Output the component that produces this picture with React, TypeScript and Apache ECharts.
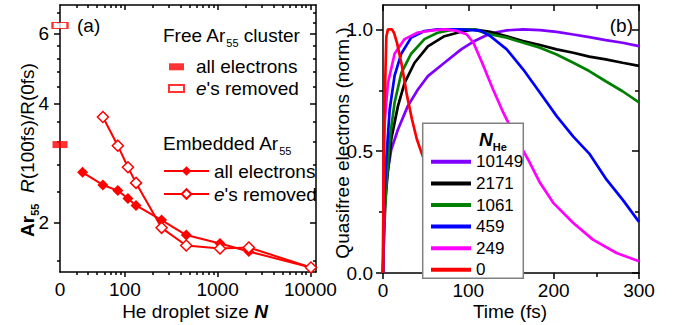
import React, { useEffect, useRef } from 'react';
import * as echarts from 'echarts';

const FONT = '"Liberation Sans", Arial, Helvetica, sans-serif';

// ---------- Panel (a) data ----------
const FREE_POS = 20; // position of the "0" (free cluster) tick on the size axis
const freeAll = [3.15];
const freeRemoved = [6.3];
const embAllSizes = [35, 58, 84, 108, 132, 249, 459, 1061, 2171, 10149];
const embAllValues = [2.68, 2.49, 2.41, 2.3, 2.21, 2.03, 1.86, 1.77, 1.69, 1.54];
const embRemSizes = [58, 84, 108, 132, 249, 459, 1061, 2171, 10149];
const embRemValues = [3.7, 3.13, 2.76, 2.52, 1.94, 1.75, 1.72, 1.73, 1.54];
const xMajor = [100, 1000, 10000];
const xLabels = [FREE_POS, 100, 1000, 10000];
const xMinor = [30, 40, 50, 60, 70, 80, 90, 200, 300, 400, 500, 600, 700, 800, 900, 2000, 3000, 4000, 5000, 6000, 7000, 8000, 9000];
const yMajorA = [2, 4, 6];
const yMinorA = [1.6, 2.4, 2.8, 3.2, 3.6, 4.4, 4.8, 5.2, 5.6, 6.4, 6.8];

// ---------- Panel (b) data ----------
const nameList = ['10149', '2171', '1061', '459', '249', '0'];
const colorList = ['#8000ff', '#000000', '#008000', '#0000ff', '#ff00ff', '#ff0000'];
const t10149 = [0, 1, 3.9, 9.7, 17.5, 29, 40.9, 52.6, 72, 91.6, 106, 125.6, 145, 164, 184, 203.5, 223, 241.7, 261, 280.7, 300];
const v10149 = [0, 0.18, 0.383, 0.507, 0.589, 0.685, 0.753, 0.808, 0.863, 0.918, 0.95, 0.983, 0.996, 1.0, 0.997, 0.99, 0.979, 0.968, 0.956, 0.945, 0.931];
const t2171 = [0, 2, 5.8, 9.7, 17.5, 25.3, 37, 52.6, 72, 91.6, 106, 125.6, 145, 164, 184, 203.5, 223, 241.7, 261, 280.7, 300];
const v2171 = [0, 0.27, 0.42, 0.55, 0.685, 0.78, 0.863, 0.93, 0.972, 0.99, 1.0, 0.99, 0.972, 0.952, 0.936, 0.918, 0.904, 0.888, 0.877, 0.863, 0.85];
const t1061 = [0, 1.2, 3.9, 7.8, 13.6, 21.4, 33, 48.6, 64, 83.5, 106, 125.6, 145, 164.4, 184, 203.5, 223, 241.7, 261, 280.7, 300];
const v1061 = [0, 0.165, 0.356, 0.548, 0.7, 0.82, 0.9, 0.96, 0.986, 1.0, 1.0, 0.98, 0.966, 0.945, 0.925, 0.897, 0.863, 0.829, 0.787, 0.746, 0.7];
const t459 = [0, 1, 3.9, 7.8, 13.6, 21.4, 33, 48.6, 64, 90, 114, 125.6, 145, 164.4, 184, 203.5, 223, 241.7, 262, 281, 300];
const v459 = [0, 0.27, 0.47, 0.67, 0.81, 0.9, 0.966, 0.993, 1.0, 1.0, 0.995, 0.973, 0.918, 0.835, 0.74, 0.644, 0.56, 0.49, 0.383, 0.3, 0.21];
const t249 = [0, 0.5, 2, 5.8, 13.6, 25.3, 40.9, 60.4, 72, 85, 98, 106, 117.7, 129, 141, 152.8, 164.5, 170, 184, 199.5, 223, 246, 273.7, 300];
const v249 = [0, 0.33, 0.62, 0.78, 0.9, 0.96, 0.987, 0.997, 1.0, 0.995, 0.98, 0.945, 0.85, 0.753, 0.658, 0.575, 0.5, 0.466, 0.37, 0.288, 0.205, 0.137, 0.082, 0.048];
const t0 = [0, 1, 3.9, 5.8, 8, 10.5, 13, 16.4, 22.2, 28, 34, 39.6, 45.5, 55, 70, 90, 120, 150];
const v0 = [0, 0.56, 0.97, 1.0, 1.0, 1.0, 0.985, 0.945, 0.85, 0.73, 0.63, 0.55, 0.49, 0.4, 0.28, 0.17, 0.07, 0.03];
const timeLists = [t10149, t2171, t1061, t459, t249, t0];
const valueLists = [v10149, v2171, v1061, v459, v249, v0];
const yMajorB = [0, 0.5, 1.0];
const yMinorB = [0.25, 0.75];

const zip = (xs: number[], ys: number[]) => xs.map((x, i) => [x, ys[i]]);

const BLACK = { color: '#000', width: 1.5 };
const labelBase = { color: '#000', fontFamily: FONT, fontSize: 19 };

function logX(position: 'top' | 'bottom', ticks: number[], len: number, inside: boolean, line: boolean, labels?: number[]) {
  return {
    type: 'log', gridIndex: 0, position, min: 20, max: 11500,
    axisLine: { show: line, onZero: false, lineStyle: BLACK },
    axisTick: { show: true, customValues: ticks, length: len, inside, lineStyle: BLACK },
    axisLabel: labels
      ? { show: true, customValues: labels, margin: 8, ...labelBase,
          formatter: (v: number) => { const r = Math.round(v); return r <= FREE_POS ? '0' : String(r); } }
      : { show: false },
    splitLine: { show: false },
  };
}
function logY(position: 'left' | 'right', ticks: number[], len: number, inside: boolean, line: boolean, labels?: number[]) {
  return {
    type: 'log', gridIndex: 0, position, min: 1.5, max: 7.1,
    axisLine: { show: line, onZero: false, lineStyle: BLACK },
    axisTick: { show: true, customValues: ticks, length: len, inside, lineStyle: BLACK },
    axisLabel: labels
      ? { show: true, customValues: labels, margin: 11, ...labelBase, formatter: (v: number) => String(Math.round(v)) }
      : { show: false },
    splitLine: { show: false },
  };
}
function timeX(position: 'top' | 'bottom', inside: boolean, labels: boolean) {
  return {
    type: 'value', gridIndex: 1, position, min: 0, max: 300, interval: 100,
    axisLine: { show: true, onZero: false, lineStyle: BLACK },
    axisTick: { show: true, length: 6, inside, lineStyle: BLACK },
    minorTick: { show: true, splitNumber: 2, length: 4, lineStyle: BLACK },
    axisLabel: labels ? { show: true, margin: 8, ...labelBase } : { show: false },
    splitLine: { show: false }, minorSplitLine: { show: false },
  };
}
function normY(position: 'left' | 'right', ticks: number[], len: number, inside: boolean, line: boolean, labels?: number[]) {
  return {
    type: 'value', gridIndex: 1, position, min: 0, max: 1.1,
    axisLine: { show: line, onZero: false, lineStyle: BLACK },
    axisTick: { show: true, customValues: ticks, length: len, inside, lineStyle: BLACK },
    axisLabel: labels
      ? { show: true, customValues: labels, margin: 10, ...labelBase, formatter: (v: number) => v.toFixed(1) }
      : { show: false },
    splitLine: { show: false },
  };
}

const subRich = {
  s: { fontSize: 11, fontFamily: FONT, verticalAlign: 'bottom', lineHeight: 26, fill: '#000', color: '#000' },
  bs: { fontSize: 11, fontWeight: 'bold', fontFamily: FONT, verticalAlign: 'bottom', lineHeight: 26, fill: '#000', color: '#000' },
  b: { fontSize: 19, fontWeight: 'bold', fontFamily: FONT, lineHeight: 20, fill: '#000', color: '#000' },
  bi: { fontSize: 19, fontWeight: 'bold', fontStyle: 'italic', fontFamily: FONT, lineHeight: 20, fill: '#000', color: '#000' },
  i: { fontSize: 19, fontStyle: 'italic', fontFamily: FONT, lineHeight: 20, fill: '#000', color: '#000' },
  n: { fontSize: 19, fontFamily: FONT, lineHeight: 20, fill: '#000', color: '#000' },
};

function txt(x: number, y: number, text: string, align: string, rotation = 0, size = 19) {
  return {
    type: 'text', x, y, rotation, z: 200,
    style: { text, rich: subRich, fontSize: size, fontFamily: FONT, fill: '#000', align, verticalAlign: 'middle' },
  };
}

const legendText = (size: number, lh: number, leftPad: number) => ({
  fontSize: size, fontFamily: FONT, color: '#000', lineHeight: lh, padding: [0, 0, 0, leftPad],
  rich: { i: { fontSize: size, fontFamily: FONT, fontStyle: 'italic', color: '#000', lineHeight: lh } },
});
const removedFmt = (name: string) => (name.indexOf('removed') >= 0 ? "{i|e}'s removed" : 'all electrons');

const option: any = {
  animation: false,
  backgroundColor: '#fff',
  grid: [
    { left: 60, top: 5, width: 256, height: 267 },
    { left: 383, top: 5, width: 256, height: 268 },
  ],
  xAxis: [
    logX('bottom', xMajor, 5, false, true, xLabels),
    logX('bottom', xMinor, 3, false, false),
    logX('top', xMajor, 5, true, true),
    logX('top', xMinor, 3, true, false),
    timeX('bottom', false, true),
    timeX('top', true, false),
  ],
  yAxis: [
    logY('left', yMajorA, 6, false, true, yMajorA),
    logY('left', yMinorA, 3, false, false),
    logY('right', yMajorA, 6, true, true),
    logY('right', yMinorA, 3, true, false),
    normY('left', yMajorB, 7, false, true, yMajorB),
    normY('left', yMinorB, 4, false, false),
    normY('right', yMajorB, 7, true, true),
    normY('right', yMinorB, 4, true, false),
  ],
  legend: [
    {
      data: [{ name: 'free all', icon: 'rect' }, { name: 'free removed', icon: 'rect' }],
      orient: 'vertical', left: 168, top: 56, itemWidth: 15, itemHeight: 7, itemGap: 0, padding: 0,
      selectedMode: false, formatter: removedFmt, textStyle: legendText(19, 21.6, 7), z: 200,
    },
    {
      data: ['emb all', 'emb removed'],
      orient: 'vertical', left: 163, top: 159.5, itemWidth: 45, itemHeight: 12, itemGap: 0, padding: 0,
      selectedMode: false, formatter: removedFmt, textStyle: legendText(19, 23, 0), z: 200,
    },
    {
      data: nameList.map((name) => ({ name, icon: 'rect' })),
      orient: 'vertical', left: 431, top: 151, itemWidth: 40, itemHeight: 4, itemGap: 0, padding: 0,
      selectedMode: false, textStyle: legendText(17, 21.6, 0), z: 200,
    },
  ],
  graphic: [
    { type: 'rect', z: 100, shape: { x: 422.7, y: 123.3, width: 100.6, height: 155 },
      style: { fill: '#fff', stroke: '#808080', lineWidth: 1.5 } },
    txt(493, 139, '{bi|N}{bs|He}', 'center', 0),
    txt(77, 25, '(a)', 'left'),
    txt(633, 25, '(b)', 'right'),
    txt(163, 35, 'Free Ar{s|55} cluster', 'left'),
    txt(163, 143, 'Embedded Ar{s|55}', 'left'),
    txt(27, 150, '{b|Ar}{bs|55}  {i|R}(100fs)/R(0fs)', 'center', Math.PI / 2),
    txt(342, 143, 'Quasifree electrons (norm.)', 'center', Math.PI / 2),
    txt(195, 311, 'He droplet size {bi|N}', 'center'),
    txt(510, 311, 'Time (fs)', 'center'),
  ],
  series: [
    {
      type: 'line', name: 'emb all', xAxisIndex: 0, yAxisIndex: 0, data: zip(embAllSizes, embAllValues),
      symbol: 'diamond', symbolSize: 11, showSymbol: true, z: 3,
      lineStyle: { color: '#ff0000', width: 2 }, itemStyle: { color: '#ff0000' }, emphasis: { disabled: true },
    },
    {
      type: 'line', name: 'emb removed', xAxisIndex: 0, yAxisIndex: 0, data: zip(embRemSizes, embRemValues),
      symbol: 'diamond', symbolSize: 11, showSymbol: true, z: 3,
      lineStyle: { color: '#ff0000', width: 2 }, itemStyle: { color: '#ffffff', borderColor: '#ff0000', borderWidth: 1.5 },
      emphasis: { disabled: true },
    },
    {
      type: 'scatter', name: 'free all', xAxisIndex: 0, yAxisIndex: 0, data: freeAll.map((v) => [FREE_POS, v]),
      symbol: 'rect', symbolSize: [15, 7], clip: false, z: 4, itemStyle: { color: '#ff0000' }, emphasis: { disabled: true },
    },
    {
      type: 'scatter', name: 'free removed', xAxisIndex: 0, yAxisIndex: 0, data: freeRemoved.map((v) => [FREE_POS, v]),
      symbol: 'rect', symbolSize: [15, 6], clip: false, z: 4,
      itemStyle: { color: '#ffffff', borderColor: '#ff0000', borderWidth: 1.5 }, emphasis: { disabled: true },
    },
    ...nameList.map((name, i) => ({
      type: 'line', name, xAxisIndex: 4, yAxisIndex: 4, data: zip(timeLists[i], valueLists[i]),
      symbol: 'none', showSymbol: false, z: 2 + i * 0.01, clip: true,
      lineStyle: { color: colorList[i], width: 2.7 }, itemStyle: { color: colorList[i] }, emphasis: { disabled: true },
    })),
  ],
};

export default function App() {
  const ref = useRef<HTMLDivElement>(null);
  useEffect(() => {
    const chart = echarts.init(ref.current as HTMLDivElement, null, { renderer: 'svg' });
    chart.setOption(option);
    return () => chart.dispose();
  }, []);
  return (
    <div
      ref={ref}
      style={{ position: 'fixed', left: 0, top: 0, width: 675, height: 325, background: '#fff' }}
    />
  );
}
